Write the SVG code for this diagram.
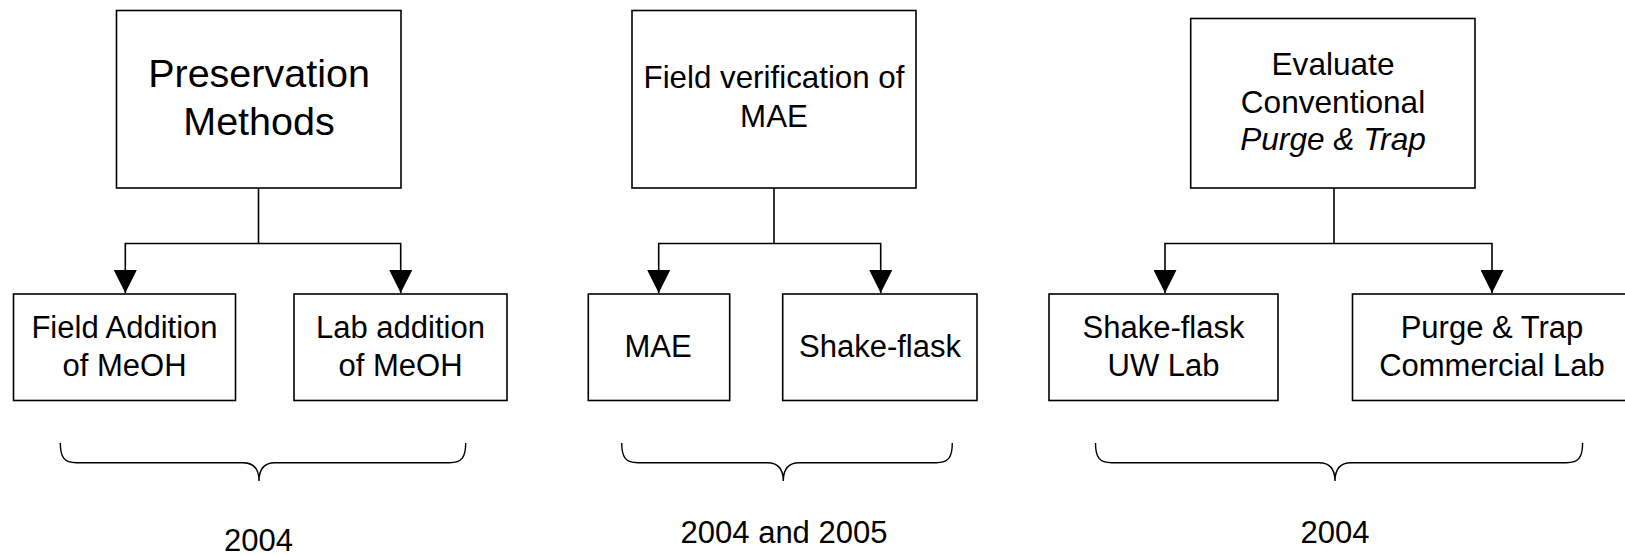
<svg xmlns="http://www.w3.org/2000/svg" width="1625" height="555" viewBox="0 0 1625 555">
<style>
.box{fill:#fff;stroke:#000;stroke-width:1.6}
.t{font-family:"Liberation Sans",Arial,sans-serif;font-size:31px;fill:#000;text-anchor:middle}
.big{font-size:39.5px}
.mid{font-size:31.3px}
.ev{font-size:31.6px}
.it{font-style:italic}
.conn{fill:none;stroke:#000;stroke-width:1.6}
.brace{fill:none;stroke:#000;stroke-width:1.4}
</style>
<defs>
<marker id="arr" markerUnits="userSpaceOnUse" markerWidth="23" markerHeight="23" viewBox="0 0 22 22" refX="22" refY="11" orient="auto">
<path d="M0,0 L22,11 L0,22 z" fill="#000"/>
</marker>
</defs>
<g id="connectors">
<path class="conn" d="M258.5,188 V243.5 H125.3 V293" marker-end="url(#arr)"/>
<path class="conn" d="M258.5,243.5 H400.7 V293" marker-end="url(#arr)"/>
<path class="conn" d="M774,188 V243.5 H658.7 V293" marker-end="url(#arr)"/>
<path class="conn" d="M774,243.5 H880.7 V293" marker-end="url(#arr)"/>
<path class="conn" d="M1334,188 V243.5 H1165 V293" marker-end="url(#arr)"/>
<path class="conn" d="M1334,243.5 H1492 V293" marker-end="url(#arr)"/>
</g>
<g id="n-preservation">
<rect class="box" x="116.5" y="10.5" width="284.5" height="177.5"/>
<text class="t big" x="259" y="87">Preservation</text>
<text class="t big" x="259" y="135">Methods</text>
</g>
<g id="n-field-addition">
<rect class="box" x="13.5" y="294" width="222" height="106.5"/>
<text class="t" x="124.5" y="337.7">Field Addition</text>
<text class="t" x="124.5" y="375.7">of MeOH</text>
</g>
<g id="n-lab-addition">
<rect class="box" x="294" y="294" width="213" height="106.5"/>
<text class="t" x="400.5" y="337.7">Lab addition</text>
<text class="t" x="400.5" y="375.7">of MeOH</text>
</g>
<g id="n-field-verification">
<rect class="box" x="632" y="10.5" width="284" height="177.5"/>
<text class="t mid" x="774" y="88.3">Field verification of</text>
<text class="t mid" x="774" y="126.7">MAE</text>
</g>
<g id="n-mae">
<rect class="box" x="588.3" y="294" width="141.4" height="106.5"/>
<text class="t" x="658" y="356.7">MAE</text>
</g>
<g id="n-shake-flask">
<rect class="box" x="782.7" y="294" width="194.3" height="106.5"/>
<text class="t" x="880" y="356.7">Shake-flask</text>
</g>
<g id="n-evaluate">
<rect class="box" x="1190.7" y="18.5" width="284.3" height="169.5"/>
<text class="t ev" x="1333" y="75">Evaluate</text>
<text class="t ev" x="1333" y="112.5">Conventional</text>
<text class="t ev it" x="1333" y="150">Purge &amp; Trap</text>
</g>
<g id="n-shake-flask-uw">
<rect class="box" x="1049" y="294" width="229" height="106.5"/>
<text class="t" x="1163.5" y="337.7">Shake-flask</text>
<text class="t" x="1163.5" y="375.7">UW Lab</text>
</g>
<g id="n-purge-trap">
<rect class="box" x="1352.5" y="294" width="279" height="106.5"/>
<text class="t" x="1492" y="337.7">Purge &amp; Trap</text>
<text class="t" x="1492" y="375.7">Commercial Lab</text>
</g>
<g id="brace-1">
<path class="brace" d="M60.3,443 C60.3,457 64,462.7 76.5,462.7 H243 C253,462.7 259,468 259,481 C259,468 265,462.7 275,462.7 H449.5 C462,462.7 465.7,457 465.7,443"/>
<text class="t" x="258.5" y="551">2004</text>
</g>
<g id="brace-2">
<path class="brace" d="M621.7,443 C621.7,457 625.4,462.7 637.9,462.7 H767.3 C777.3,462.7 783.3,468 783.3,481 C783.3,468 789.3,462.7 799.3,462.7 H936.1 C948.6,462.7 952.3,457 952.3,443"/>
<text class="t" x="784" y="543">2004 and 2005</text>
</g>
<g id="brace-3">
<path class="brace" d="M1095.5,443 C1095.5,457 1099.2,462.7 1111.7,462.7 H1319 C1329,462.7 1335,468 1335,481 C1335,468 1341,462.7 1351,462.7 H1566.4 C1578.9,462.7 1582.6,457 1582.6,443"/>
<text class="t" x="1335" y="542.5">2004</text>
</g>
</svg>
